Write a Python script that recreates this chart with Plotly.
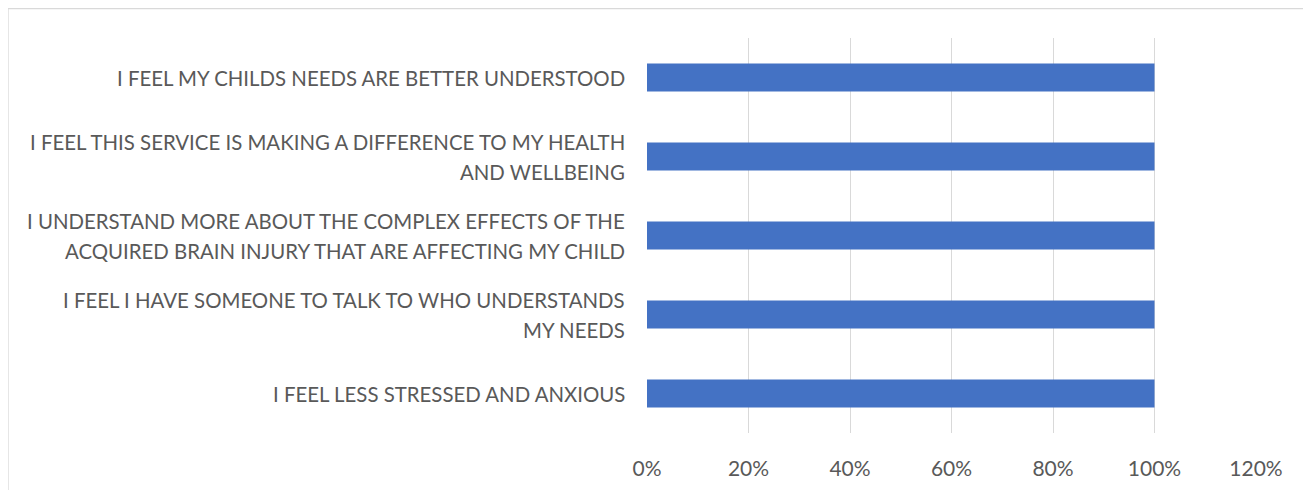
import plotly.graph_objects as go

categories = [
    "I FEEL LESS STRESSED AND ANXIOUS",
    "I FEEL I HAVE SOMEONE TO TALK TO WHO UNDERSTANDS<br>MY NEEDS",
    "I UNDERSTAND MORE ABOUT THE COMPLEX EFFECTS OF THE<br>ACQUIRED BRAIN INJURY THAT ARE AFFECTING MY CHILD",
    "I FEEL THIS SERVICE IS MAKING A DIFFERENCE TO MY HEALTH<br>AND WELLBEING",
    "I FEEL MY CHILDS NEEDS ARE BETTER UNDERSTOOD",
]
values = [1.0, 1.0, 1.0, 1.0, 1.0]
tick_vals = [0, 0.2, 0.4, 0.6, 0.8, 1.0, 1.2]
tick_text = ["0%", "20%", "40%", "60%", "80%", "100%", "120%"]

W, H = 1311, 490
OFF = 8  # page body margin
L, R, T, B = 647 - OFF, 1311 + OFF - 1256, 38 - OFF, 490 + OFF - 433

FONT = "Lato"
LBL_SIZE = 20.4
TICK_SIZE = 21
LINE_GAP = 30

fig = go.Figure(go.Bar(
    x=values, y=categories, orientation="h",
    marker=dict(color="#4472C4", line=dict(width=0)),
    width=0.355,
))

pw = W - L - R
ph = H - T - B
def px(x):
    return (x - OFF - L) / pw
def py(y):
    return 1 - (y - OFF - T) / ph

fig.add_shape(type="rect", xref="paper", yref="paper",
              x0=px(8), x1=px(1310), y0=py(505), y1=py(8.5),
              line=dict(color="#D9D9D9", width=1.3), layer="below")

for cat in categories:
    lines = cat.split("<br>")
    n = len(lines)
    for i, ln in enumerate(lines):
        fig.add_annotation(x=0, xref="paper", y=cat, yref="y",
                           text=ln, showarrow=False, xanchor="right",
                           yanchor="middle", xshift=-20,
                           yshift=((n - 1) / 2 - i) * LINE_GAP,
                           font=dict(family=FONT, size=LBL_SIZE, color="#595959"))

fig.update_layout(
    width=W, height=H,
    margin=dict(l=L, r=R, t=T, b=B),
    paper_bgcolor="white", plot_bgcolor="white",
    showlegend=False,
    font=dict(family=FONT, color="#595959", size=LBL_SIZE),
    xaxis=dict(range=[0, 1.2], tickvals=tick_vals, ticktext=tick_text,
               showgrid=True, gridcolor="#D9D9D9", gridwidth=1.3,
               zeroline=False, showline=False, ticks="",
               ticklabelstandoff=21, tickfont=dict(size=TICK_SIZE)),
    yaxis=dict(showgrid=False, zeroline=False, showline=False, ticks="",
               showticklabels=False,
               categoryorder="array", categoryarray=categories),
)

fig.write_html("out.html")
